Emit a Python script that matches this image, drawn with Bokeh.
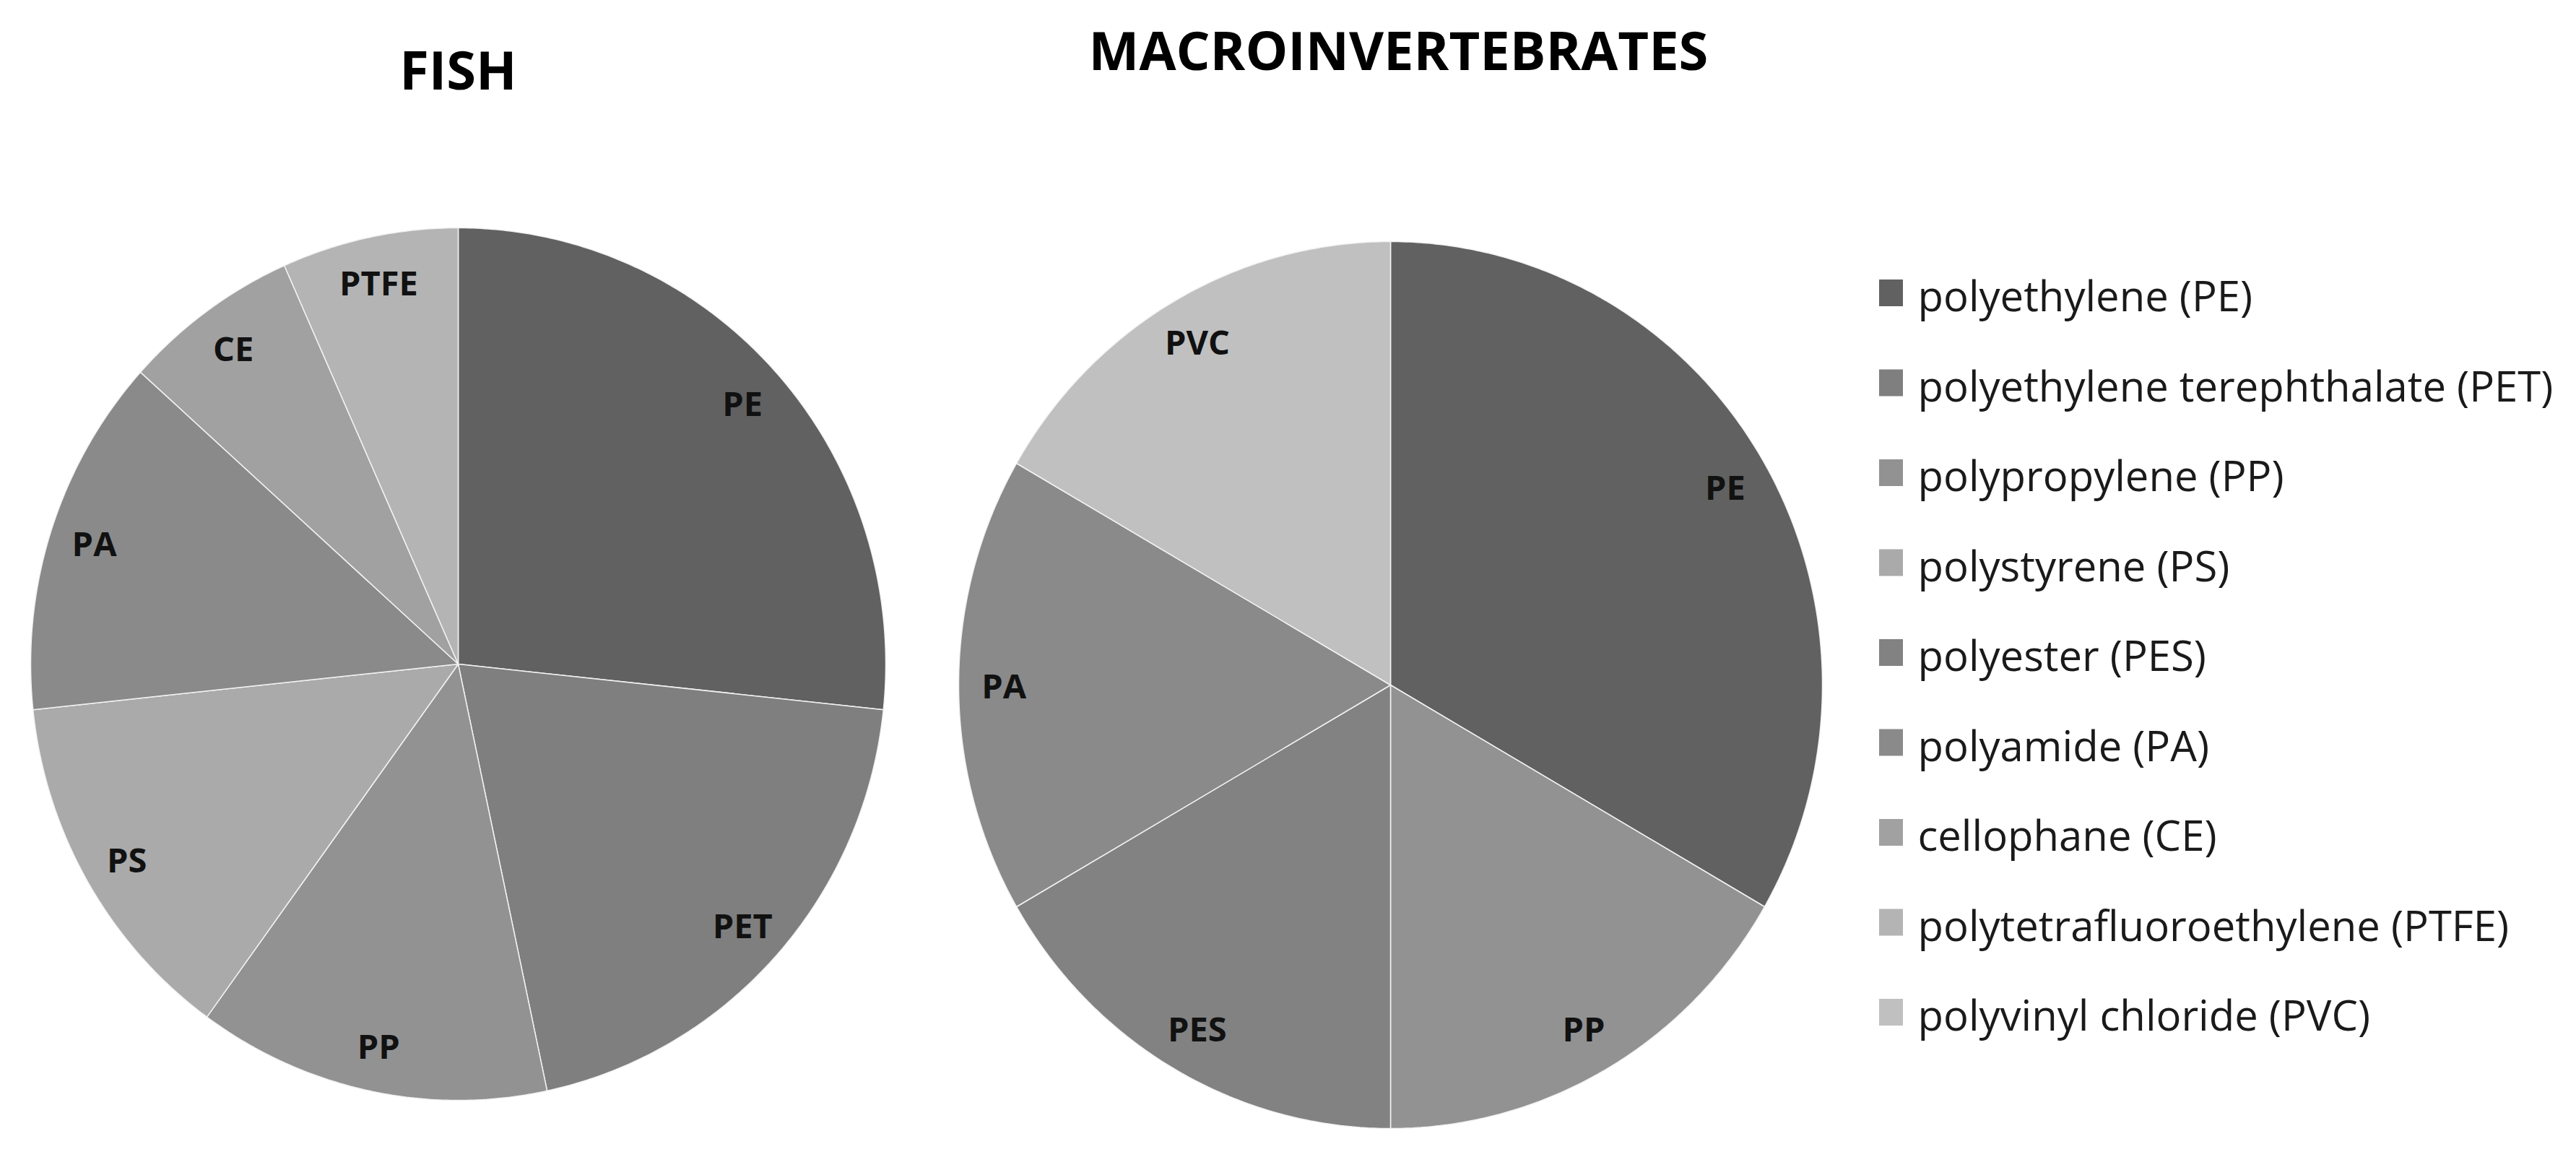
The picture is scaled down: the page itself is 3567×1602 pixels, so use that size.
import numpy as np
from bokeh.plotting import figure
from bokeh.models import Range1d, ColumnDataSource
from bokeh.core.properties import value
from bokeh.embed import file_html
from bokeh.resources import INLINE

# ---------------- data ----------------
polymer_codes = ["PE", "PET", "PP", "PS", "PES", "PA", "CE", "PTFE", "PVC"]
polymer_names = [
    "polyethylene (PE)",
    "polyethylene terephthalate (PET)",
    "polypropylene (PP)",
    "polystyrene (PS)",
    "polyester (PES)",
    "polyamide (PA)",
    "cellophane (CE)",
    "polytetrafluoroethylene (PTFE)",
    "polyvinyl chloride (PVC)",
]
polymer_colors = ["#616161", "#7f7f7f", "#929292", "#aaaaaa", "#828282",
                  "#8a8a8a", "#a1a1a1", "#b4b4b4", "#c0c0c0"]

fish_codes = ["PE", "PET", "PP", "PS", "PA", "CE", "PTFE"]
fish_counts = [4, 3, 2, 2, 2, 1, 1]

macro_codes = ["PE", "PP", "PES", "PA", "PVC"]
macro_counts = [2, 1, 1, 1, 1]

titles = ["FISH", "MACROINVERTEBRATES"]

# ---------------- layout ----------------
W, H = 3567, 1602
FW, FH = W - 16, H - 16
color_of = dict(zip(polymer_codes, polymer_colors))


def Y(py):
    return H - py


p = figure(width=FW, height=FH, output_backend="svg", toolbar_location=None,
           x_range=Range1d(0, FW), y_range=Range1d(Y(FH), Y(0)),
           min_border=0, outline_line_color=None)
p.axis.visible = False
p.grid.visible = False
p.background_fill_color = "white"
p.border_fill_color = "white"


def pie(codes, counts, cx, cy, rx, ry):
    counts = np.asarray(counts, dtype=float)
    total = counts.sum()
    cum = np.concatenate([[0], np.cumsum(counts)]) / total
    start = np.pi / 2 - 2 * np.pi * cum[:-1]
    end = np.pi / 2 - 2 * np.pi * cum[1:]
    mid = (start + end) / 2
    xs, ys = [], []
    for a0, a1 in zip(start, end):
        n = max(8, int(abs(a1 - a0) / (2 * np.pi) * 720))
        t = np.linspace(a0, a1, n)
        xs.append(np.concatenate([[cx], cx + rx * np.cos(t)]))
        ys.append(np.concatenate([[Y(cy)], Y(cy) + ry * np.sin(t)]))
    src = ColumnDataSource(dict(xs=xs, ys=ys,
                                color=[color_of[c] for c in codes]))
    p.patches(xs="xs", ys="ys", fill_color="color", line_color="#f2f2f2",
              line_width=1.5, line_join="bevel", source=src)
    f = 0.895
    lsrc = ColumnDataSource(dict(
        x=cx + f * rx * np.cos(mid), y=Y(cy) + f * ry * np.sin(mid), t=codes))
    p.text(x="x", y="y", text="t", source=lsrc, text_font=value("Open Sans"),
           text_font_style="bold", text_font_size="47px", text_color="#111111",
           text_align="center", text_baseline="middle")


pie(fish_codes, fish_counts, 634, 919, 592, 604)
pie(macro_codes, macro_counts, 1925, 948, 598, 614)

# titles
p.text(x=[634, 1936], y=[Y(95), Y(68)], text=titles,
       text_font=value("Open Sans"), text_font_style="bold",
       text_font_size="74px", text_color="#000000",
       text_align="center", text_baseline="middle")

# legend
ly = [Y(405 + 124.5 * i) for i in range(len(polymer_codes))]
p.rect(x=[2618] * len(ly), y=ly, width=33, height=37,
       fill_color=polymer_colors, line_color=None)
p.text(x=[2655] * len(ly), y=[v - 3 for v in ly], text=polymer_names,
       text_font=value("Open Sans"), text_font_size="58px",
       text_color="#1a1a1a", text_align="left", text_baseline="middle")

open("out.html", "w").write(file_html(p, INLINE))
